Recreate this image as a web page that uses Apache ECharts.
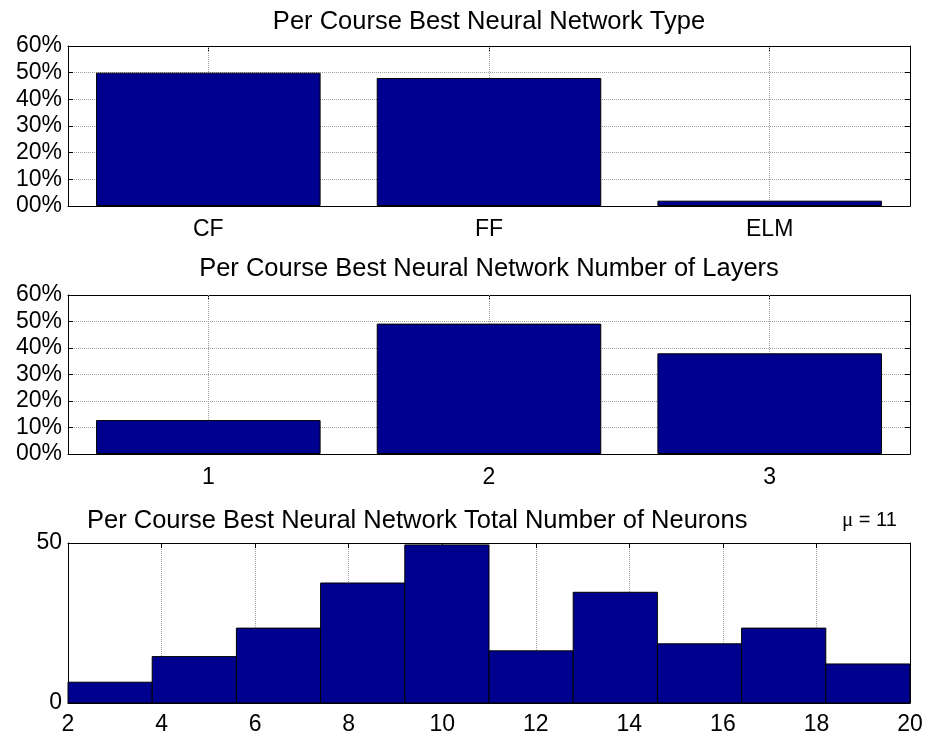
<!DOCTYPE html>
<html>
<head>
<meta charset="utf-8">
<script src="https://cdn.jsdelivr.net/npm/echarts@6/dist/echarts.min.js"></script>
<style>
  html, body { margin: 0; padding: 0; background: #fff; }
  #chart { width: 927px; height: 738px; }
</style>
</head>
<body>
<div id="chart"></div>
<script>
// Best network type per course (% of courses)
const typeCategories = ['CF', 'FF', 'ELM'];
const typeShares = [50, 48, 2];

// Best number of hidden layers per course (% of courses)
const layerCategories = ['1', '2', '3'];
const layerShares = [12.8, 49.2, 38.0];

// Total neuron count histogram
const neuronBinEdges = [2, 3.8, 5.6, 7.4, 9.2, 11, 12.8, 14.6, 16.4, 18.2, 20];
const neuronCounts = [6.5, 14.5, 23.4, 37.5, 49.4, 16.3, 34.6, 18.5, 23.4, 12.2];
const neuronMean = 11;

// Percentage tick labels (0..60 step 10)
const pctTickLabels = ['00%', '10%', '20%', '30%', '40%', '50%', '60%'];

const FONT = "'Liberation Sans', Arial, Helvetica, sans-serif";
const FS = 23;        // tick labels
const TITLE_FS = 25.5; // subplot titles
const BAR_COLOR = '#00008F';
const gridLine = { show: true, lineStyle: { type: 'dotted', color: '#a0a0a0', width: 1 } };
const blackLine = { show: true, onZero: false, lineStyle: { color: '#000', width: 1 } };
const inTick = (align) => ({ show: true, inside: true, length: 5, alignWithLabel: align, lineStyle: { color: '#000', width: 1 } });
const labelStyle = { color: '#000', fontFamily: FONT, fontSize: FS };

function categoryAxes(gridIndex, cats) {
  return [
    { type: 'category', gridIndex, data: cats, position: 'bottom', boundaryGap: true,
      axisLine: blackLine, axisTick: inTick(true), splitLine: { show: false },
      axisLabel: Object.assign({ margin: 12 }, labelStyle) },
    { type: 'category', gridIndex, data: cats, position: 'top', boundaryGap: true,
      axisLine: blackLine, axisTick: inTick(true), splitLine: { show: false },
      axisLabel: { show: false } }
  ];
}
function pctAxes(gridIndex) {
  return [
    { type: 'value', gridIndex, position: 'left', min: 0, max: 60, interval: 10,
      axisLine: blackLine, axisTick: inTick(false), splitLine: gridLine,
      axisLabel: Object.assign({ margin: 6, formatter: v => pctTickLabels[Math.round(v / 10)] }, labelStyle) },
    { type: 'value', gridIndex, position: 'right', min: 0, max: 60, interval: 10,
      axisLine: blackLine, axisTick: inTick(false), splitLine: { show: false },
      axisLabel: { show: false } }
  ];
}
function barSeries(axisBase, cats, values) {
  return {
    type: 'bar', xAxisIndex: axisBase, yAxisIndex: axisBase,
    data: values, barWidth: '80%', z: 2,
    itemStyle: { color: BAR_COLOR, borderColor: '#000', borderWidth: 1 },
    markLine: {
      silent: true, symbol: 'none', z: 1, animation: false,
      label: { show: false },
      lineStyle: { type: 'dotted', color: '#a0a0a0', width: 1 },
      data: cats.map(c => ({ xAxis: c }))
    }
  };
}

const chart = echarts.init(document.getElementById('chart'), null, { renderer: 'canvas' });

const titleStyle = { color: '#000', fontFamily: FONT, fontSize: TITLE_FS, fontWeight: 'normal' };

chart.setOption({
  animation: false,
  backgroundColor: '#fff',
  title: [
    { text: 'Per Course Best Neural Network Type', left: 489, top: 9, textAlign: 'center', padding: 0, textStyle: titleStyle },
    { text: 'Per Course Best Neural Network Number of Layers', left: 489, top: 256, textAlign: 'center', padding: 0, textStyle: titleStyle },
    { text: 'Per Course Best Neural Network Total Number of Neurons', left: 87, top: 508, padding: 0, textStyle: titleStyle },
    { text: '{mu|\u03bc} = ' + neuronMean, left: 842, top: 510, padding: 0,
      textStyle: { color: '#000', fontFamily: FONT, fontSize: 20, fontWeight: 'normal',
        rich: { mu: { fontFamily: "'Liberation Serif', 'DejaVu Serif', serif", fontSize: 21, color: '#000' } } } }
  ],
  grid: [
    { left: 68, top: 46, width: 842, height: 160, containLabel: false },
    { left: 68, top: 295, width: 842, height: 159, containLabel: false },
    { left: 68, top: 543, width: 842, height: 160, containLabel: false }
  ],
  xAxis: [
    ...categoryAxes(0, typeCategories),
    ...categoryAxes(1, layerCategories),
    { type: 'value', gridIndex: 2, position: 'bottom', min: 2, max: 20, interval: 2,
      axisLine: blackLine, axisTick: inTick(false), splitLine: gridLine,
      axisLabel: Object.assign({ margin: 10 }, labelStyle) },
    { type: 'value', gridIndex: 2, position: 'top', min: 2, max: 20, interval: 2,
      axisLine: blackLine, axisTick: inTick(false), splitLine: { show: false },
      axisLabel: { show: false } }
  ],
  yAxis: [
    ...pctAxes(0),
    ...pctAxes(1),
    { type: 'value', gridIndex: 2, position: 'left', min: 0, max: 50, interval: 50,
      axisLine: blackLine, axisTick: inTick(false), splitLine: { show: false },
      axisLabel: Object.assign({ margin: 6 }, labelStyle) },
    { type: 'value', gridIndex: 2, position: 'right', min: 0, max: 50, interval: 50,
      axisLine: blackLine, axisTick: inTick(false), splitLine: { show: false },
      axisLabel: { show: false } }
  ],
  series: [
    barSeries(0, typeCategories, typeShares),
    barSeries(2, layerCategories, layerShares),
    {
      type: 'custom', xAxisIndex: 4, yAxisIndex: 4, z: 2,
      data: neuronCounts.map((c, i) => [neuronBinEdges[i], neuronBinEdges[i + 1], c]),
      encode: { x: [0, 1], y: 2 },
      renderItem: (params, api) => {
        const topLeft = api.coord([api.value(0), api.value(2)]);
        const bottomRight = api.coord([api.value(1), 0]);
        return {
          type: 'rect',
          shape: { x: topLeft[0], y: topLeft[1], width: bottomRight[0] - topLeft[0], height: bottomRight[1] - topLeft[1] },
          style: { fill: BAR_COLOR, stroke: '#000', lineWidth: 1 }
        };
      }
    }
  ]
});
</script>
</body>
</html>
